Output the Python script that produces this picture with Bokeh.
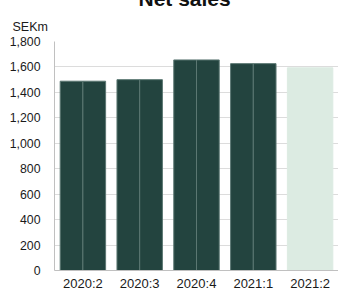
from bokeh.plotting import figure
from bokeh.models import ColumnDataSource, NumeralTickFormatter, FixedTicker, Title, Range1d, FactorRange
from bokeh.transform import dodge
from bokeh.embed import file_html
from bokeh.resources import INLINE

categories = ["2020:2", "2020:3", "2020:4", "2021:1", "2021:2"]
net_sales = [1488, 1500, 1655, 1626, 1593]
y_ticks = [0, 200, 400, 600, 800, 1000, 1200, 1400, 1600, 1800]

dark = "#23443f"
light = "#dcebe2"

actual_src = ColumnDataSource(dict(cat=categories[:4], val=net_sales[:4]))
fc_src = ColumnDataSource(dict(cat=categories[4:], val=net_sales[4:]))

p = figure(x_range=FactorRange(*categories), y_range=Range1d(0, 1800),
           width=338, height=309, output_backend="svg", toolbar_location=None,
           min_border_left=54, min_border_right=0, min_border_top=0, min_border_bottom=21)
p.styles = {"margin-top": "-16px"}
p.outline_line_color = None
p.background_fill_color = "white"

for off in (-0.2, 0.2):
    p.vbar(x=dodge("cat", off, range=p.x_range), top="val", width=0.4, bottom=0,
           source=actual_src, fill_color=dark, line_color="#5b7772", line_width=1)
p.vbar(x="cat", top="val", width=0.8, bottom=0, source=fc_src,
       fill_color=light, line_color=light)

p.yaxis.ticker = FixedTicker(ticks=y_ticks)
p.yaxis.formatter = NumeralTickFormatter(format="0,0")
for ax in (p.xaxis, p.yaxis):
    ax.major_tick_line_color = None
    ax.minor_tick_line_color = None
    ax.axis_line_color = "#c0c0c0"
    ax.major_label_text_font = "Liberation Sans"
    ax.major_label_text_color = "#1a1a1a"
p.yaxis.major_label_text_font_size = "12.3px"
p.xaxis.major_label_text_font_size = "13px"
p.yaxis.major_label_standoff = 8
p.xaxis.major_label_standoff = -1
p.xgrid.grid_line_color = None
p.ygrid.grid_line_color = "#dcdcdc"
p.ygrid.grid_line_width = 1

p.title.text = "Net sales"
p.title.align = "left"
p.title.offset = 84
p.title.standoff = 0
p.title.text_font = "Liberation Sans"
p.title.text_font_style = "bold"
p.title.text_font_size = "21px"
p.title.text_color = "#111111"

p.add_layout(Title(text="SEKm", align="left", offset=-42, standoff=16,
                   text_font="Liberation Sans", text_font_style="normal",
                   text_font_size="12.5px", text_color="#1a1a1a"), "above")

open("out.html", "w").write(file_html(p, INLINE))
